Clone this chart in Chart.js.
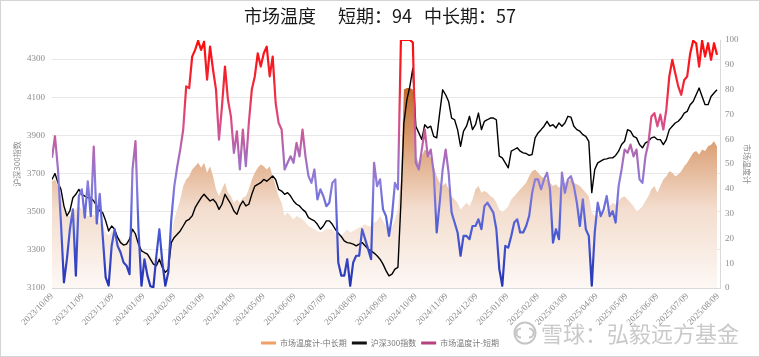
<!DOCTYPE html>
<html><head><meta charset="utf-8">
<script src="https://cdn.jsdelivr.net/npm/chart.js@4.4.1/dist/chart.umd.min.js"></script>
<style>html,body{margin:0;padding:0;background:#fff}#wrap{width:760px;height:357px;position:relative}</style>
</head><body><div id="wrap"><canvas id="c" width="760" height="357"></canvas></div>
<script>
// ---- data ----
const tickLabels = ["2023/10/09","2023/11/09","2023/12/09","2024/01/09","2024/02/09","2024/03/09","2024/04/09","2024/05/09","2024/06/09","2024/07/09","2024/08/09","2024/09/09","2024/10/09","2024/11/09","2024/12/09","2025/01/09","2025/02/09","2025/03/09","2025/04/09","2025/05/09","2025/06/09","2025/07/09","2025/08/09"];
const axisEndDate = "2025/08/11";
const startDate = "2023/10/09";
const stepDays = 3;
const leftTicks = [3100,3300,3500,3700,3900,4100,4300];
const rightTicks = [0,10,20,30,40,50,60,70,80,90,100];

const shortTerm = [
52.5,61.2,47.8,26.4,2.3,11.6,23.7,31.7,5,37,
39.8,28.4,43,29,57,26,38,21,4.3,1,
17,23.7,17,14.3,10.3,9,5.6,47.8,59.2,23.7,
0.9,11.6,5,0.7,0.3,13,23.7,10.3,0.9,6.3,
27.7,41,49,55.8,63.9,81.3,80.6,93.3,96,99.7,
96,99.3,84,97.3,88,80,59.8,73.2,89.3,75.9,
69.2,54.5,63.2,47.8,63.9,49.1,66.5,80,85.3,94.6,
89.3,94.6,97.3,85.3,93.3,74.6,66.5,63.9,47.8,50.5,
53.1,50.5,58.5,53.1,63.9,53.1,45.1,42.4,47.8,35.7,
39.8,37,33,34.4,42.4,43.8,10.3,5,5,11.6,
0.9,10.3,13,13,23.7,19.7,15.7,11.6,50.5,41.1,
43.8,31.7,29,21,29,42.4,39.8,100,100,100,
100,99,50.5,47.8,55.8,63.9,53.1,55.8,46.5,22.4,
34.4,47.8,55.8,46.5,30.4,26.4,22.4,13,21,21,
19.7,25,25,27.7,23.7,33,34.4,32.4,30.4,23.7,
7.6,0.9,17,16.3,21,26.4,27.7,22.4,22.4,25,
29,38.4,43.8,43.8,39.8,43.8,46.5,39.8,18.3,23.7,
19.7,46.5,38.4,43.8,45.1,41.1,34.4,25,35.7,23.7,
21,0.9,22.4,34.4,29,31.7,37.1,29,31,26.4,
41.1,47.8,55.8,54.5,57.8,53.1,55.8,43.8,42.4,53.1,
58.5,69.2,70.5,65.2,69.9,63.9,71.9,85.3,92,86.6,
81.3,77.9,83.9,85.3,94.6,99.7,98.7,89.3,99.7,93.3,
98.7,92,98.7,94];

const csi300 = [
3669,3700,3652,3617,3530,3478,3504,3573,3591,3617,
3591,3582,3573,3573,3556,3530,3504,3495,3452,3399,
3425,3408,3365,3338,3325,3330,3356,3408,3382,3330,
3295,3286,3278,3251,3225,3217,3251,3208,3182,3199,
3338,3365,3382,3399,3425,3452,3460,3478,3521,3547,
3573,3591,3573,3556,3565,3547,3512,3539,3591,3565,
3539,3504,3486,3530,3556,3530,3539,3591,3634,3643,
3652,3669,3660,3673,3687,3669,3617,3608,3591,3600,
3582,3556,3539,3530,3512,3499,3469,3460,3452,3434,
3408,3425,3452,3452,3434,3408,3387,3370,3347,3338,
3335,3330,3321,3330,3338,3321,3304,3295,3283,3269,
3251,3225,3191,3164,3173,3199,3208,3547,3965,4087,
4157,4252,3948,3913,3878,3956,3939,3948,3895,3887,
4017,4139,4113,4078,3991,3982,3930,3843,3922,3948,
4000,3930,3956,4017,3930,3974,3982,3991,3991,3982,
3791,3782,3756,3730,3817,3826,3835,3817,3808,3805,
3795,3800,3887,3913,3930,3948,3974,3948,3956,3939,
3965,3948,3965,4000,3996,3948,3930,3922,3904,3895,
3869,3600,3721,3756,3765,3774,3777,3782,3782,3795,
3817,3852,3869,3930,3922,3895,3887,3852,3835,3861,
3869,3887,3892,3878,3878,3852,3878,3930,3948,3965,
3974,3991,4017,4026,4061,4078,4113,4148,4104,4061,
4061,4104,4122,4139];

const midLong = [
43,43.8,41,37,31.7,29,29,31,31.7,33,
31.7,30.4,29,29,29.7,27.7,26.4,25,22.4,21,
23,22.4,21,19.7,18.3,18.3,19.7,22.4,21,18.3,
15.7,15,14.3,13,11.6,11.6,13,11.6,10.3,11.6,
21,27.7,31.7,35.7,41.1,43.8,45.1,47.8,49.1,50.5,
48.5,50.5,46.5,49.1,45.1,39.8,37,39.8,42.4,38.4,
37,34.4,35.7,34.4,36.4,37,39.8,43.8,46.5,48.5,
49.8,49.1,47.8,49.1,45.1,41.1,37,34.4,29,30.4,
29,27.7,29,28.4,27.7,26.4,25,24.4,23.7,23,
22.4,23,23.7,23.7,23.7,22.4,21.7,21,22.4,23.7,
22.4,23,23.7,24.4,25,25.7,25,25,26.4,27,
29,27,25,23.7,24.4,27.7,31.7,43.8,80,80.6,
80.6,80,53.1,50.5,53.1,55.8,54.5,52.5,49.1,45.1,
42.4,41.1,42.4,39.8,37,35.7,34.4,31.7,33,34.4,
33,35.7,39.8,41.1,38.4,39.1,38.4,37,36.4,34.4,
31.7,30.4,31.7,33,35.7,37,38.4,39.8,41.1,42.4,
45.1,47.1,47.8,46.5,45.1,44.4,43.8,42.4,41.1,41.8,
40.4,41.8,42.4,43.1,43.8,42.4,41.8,41.1,39.8,38.4,
37,30.4,29,29.7,29,30.4,31.7,33,34.4,33.7,
35.1,36.4,37,35.7,34.4,33,31,31.7,33,35.1,
37,39.8,41.1,38.4,41.1,43.8,45.1,47.1,46.5,45.1,
45.8,47.1,49.1,50.5,52.5,54.5,55.2,53.8,55.8,55.2,
57.2,57.8,59.2,57];

const titleText = "市场温度\u3000 短期：94   中长期：57";
const seriesNames = ["市场温度计-中长期","沪深300指数","市场温度计-短期"];
const legendColors = ["#eea066","#111111","#b8407e"];
const watermarkText = "雪球：弘毅远方基金";

// ---- helpers ----
function dayOf(s){const [y,m,d]=s.split('/').map(Number);const [y0,m0,d0]=startDate.split('/').map(Number);return Math.round((Date.UTC(y,m-1,d)-Date.UTC(y0,m0-1,d0))/86400000);}
const tickDays = tickLabels.map(dayOf);
const toPts = arr => arr.map((v,i)=>({x:i*stepDays,y:v}));
const serif = "'Liberation Serif','Noto Sans CJK SC',serif";
const cjk = "'Noto Sans CJK SC','Liberation Sans',sans-serif";

function shortGrad(ctx){
  const c=ctx.chart; if(!c.chartArea) return '#b8407e';
  const s=c.scales.yR; const g=c.ctx.createLinearGradient(0,s.getPixelForValue(0),0,s.getPixelForValue(100));
  g.addColorStop(0,'#2232b4'); g.addColorStop(0.25,'#4f5fd6'); g.addColorStop(0.42,'#8a7ddc');
  g.addColorStop(0.55,'#b068b4'); g.addColorStop(0.66,'#d8508a'); g.addColorStop(0.8,'#f02a3c'); g.addColorStop(1,'#ff0a0a');
  return g;
}
function areaGrad(ctx){
  const c=ctx.chart; if(!c.chartArea) return 'rgba(230,170,120,0.6)';
  const s=c.scales.yR; const g=c.ctx.createLinearGradient(0,s.getPixelForValue(0),0,s.getPixelForValue(80));
  g.addColorStop(0,'rgb(253,248,245)'); g.addColorStop(0.4,'rgb(243,221,206)');
  g.addColorStop(0.7,'rgb(222,166,126)'); g.addColorStop(1,'rgb(196,106,46)');
  return g;
}

const framePlugin = {
  id:'frame',
  beforeDraw(chart){const c=chart.ctx;c.save();c.fillStyle='#fff';c.fillRect(0,0,chart.width,chart.height);c.restore();},
  afterDraw(chart){
    const c=chart.ctx; c.save();
    c.strokeStyle='#d4d4d4'; c.lineWidth=1; c.strokeRect(0.5,0.5,chart.width-1,chart.height-1);
    // watermark
    c.strokeStyle='rgba(160,160,160,0.6)'; c.lineWidth=2;
    c.beginPath(); c.arc(525,333,10.5,0,Math.PI*2); c.stroke();
    c.beginPath(); c.arc(521,333,4.5,Math.PI*0.5,Math.PI*1.5); c.stroke();
    c.beginPath(); c.arc(529,333,4.5,-Math.PI*0.5,Math.PI*0.5); c.stroke();
    c.fillStyle='rgba(165,165,165,0.6)'; c.font="22px 'Noto Sans CJK SC'"; c.textBaseline='middle'; c.textAlign='left';
    c.fillText(watermarkText,541,334);
    c.restore();
  }
};

new Chart(document.getElementById('c'),{
  type:'line',
  data:{datasets:[
    {label:seriesNames[0],data:toPts(midLong),yAxisID:'yR',borderWidth:0,borderColor:'rgba(0,0,0,0)',backgroundColor:areaGrad,fill:'origin',pointRadius:0,order:3},
    {label:seriesNames[1],data:toPts(csi300),yAxisID:'yL',borderColor:'#000',borderWidth:1.4,pointRadius:0,fill:false,order:2},
    {label:seriesNames[2],data:toPts(shortTerm),yAxisID:'yR',borderColor:shortGrad,borderWidth:2.2,pointRadius:0,fill:false,order:1}
  ]},
  options:{
    responsive:false, animation:false, devicePixelRatio:1,
    layout:{padding:{left:0,right:0,top:0,bottom:0}},
    elements:{line:{tension:0,borderJoinStyle:'round'}},
    plugins:{
      tooltip:{enabled:false},
      title:{display:true,text:titleText,color:'#1a1a1a',font:{size:18,family:cjk,weight:'normal'},padding:{top:5,bottom:13.4}},
      legend:{position:'bottom',labels:{boxWidth:15,boxHeight:3,padding:5,color:'#777',font:{size:8,family:cjk},
        generateLabels:(chart)=>chart.data.datasets.map((ds,i)=>({text:ds.label,fillStyle:legendColors[i],strokeStyle:legendColors[i],lineWidth:0,hidden:false,datasetIndex:i,fontColor:'#777'}))}}
    },
    scales:{
      x:{type:'linear',min:0,max:dayOf(axisEndDate),
        afterBuildTicks:s=>{s.ticks=tickDays.map(v=>({value:v}));},
        afterFit:s=>{s.height=46;},
        ticks:{autoSkip:false,minRotation:45,maxRotation:45,padding:3,color:'#8c8c8c',font:{size:9,family:serif},
          callback:(v,i)=>tickLabels[i]},
        grid:{display:false,drawTicks:false},
        border:{display:true,color:'#d9d9d9'}},
      yL:{type:'linear',position:'left',min:3100,max:4400,
        afterBuildTicks:s=>{s.ticks=leftTicks.map(v=>({value:v}));},
        afterFit:s=>{s.width=52;},
        ticks:{padding:7,color:'#8c8c8c',font:{size:9,family:serif},callback:(v,i)=>String(leftTicks[i])},
        grid:{color:'#e8e8e8',drawTicks:false},
        border:{display:false},
        title:{display:true,text:'沪深300指数',color:'#8c8c8c',font:{size:8,family:cjk},padding:{top:12,bottom:0}}},
      yR:{type:'linear',position:'right',min:0,max:100,
        afterBuildTicks:s=>{s.ticks=rightTicks.map(v=>({value:v}));},
        afterFit:s=>{s.width=40;},
        ticks:{padding:5,color:'#8c8c8c',font:{size:9,family:serif},callback:(v,i)=>String(rightTicks[i])},
        grid:{display:false,drawTicks:false},
        border:{display:true,color:'#d9d9d9'},
        title:{display:true,text:'市场温度计',color:'#8c8c8c',font:{size:8,family:cjk},padding:{top:8,bottom:0}}}
    }
  },
  plugins:[framePlugin]
});
</script></body></html>
